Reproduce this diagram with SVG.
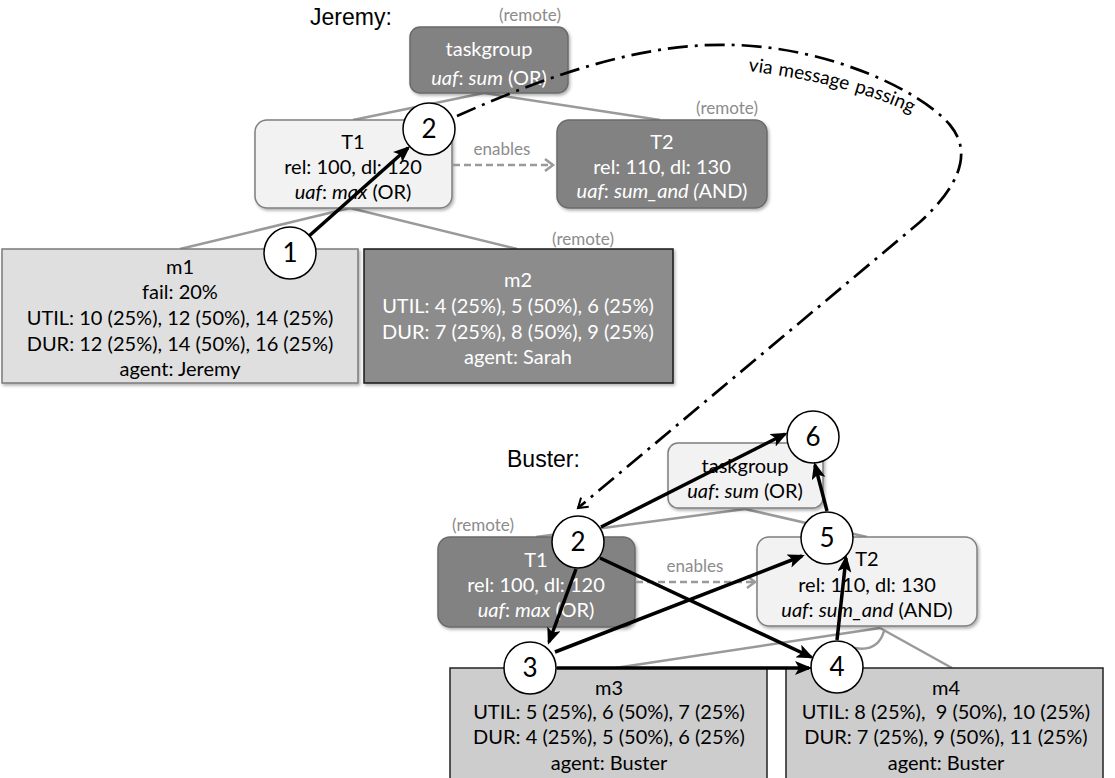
<svg xmlns="http://www.w3.org/2000/svg" width="1115" height="778" viewBox="0 0 1115 778">
<style>
  .box { font-family: Lato, "Open Sans", "Liberation Sans", sans-serif; font-size: 20px; text-anchor: middle; }
  .dk text { fill: #ffffff; }
  .lt text { fill: #000000; }
  .darkr { fill: #828282; stroke: #6a6a6a; stroke-width: 1.5; }
  .lightr { fill: #f2f2f2; stroke: #7f7f7f; stroke-width: 1.5; }
  .box text.remote, .remote { font-family: Lato, "Open Sans", "Liberation Sans", sans-serif; font-size: 17px; fill: #8c8c8c; text-anchor: middle; }
  .title { font-family: "Liberation Sans", Arial, sans-serif; font-size: 23px; fill: #000; }
  .en { font-family: Lato, "Open Sans", "Liberation Sans", sans-serif; font-size: 17px; fill: #8c8c8c; text-anchor: middle; }
  .msgt { font-family: Lato, "Open Sans", "Liberation Sans", sans-serif; font-size: 19px; fill: #000; }
  .tree { stroke: #9a9a9a; stroke-width: 2.5; fill: none; }
  .enab { stroke: #9a9a9a; stroke-width: 2.5; fill: none; stroke-dasharray: 7 4; marker-end: url(#chev); }
  .blk { stroke: #000; stroke-width: 3.5; fill: none; marker-end: url(#tri); }
  .msg { stroke: #000; stroke-width: 2.7; fill: none; stroke-dasharray: 20 7 3 7; marker-end: url(#chevb); }
  .circ circle { fill: #fff; stroke: #000; stroke-width: 1.5; }
  .circ text { font-family: Lato, "Open Sans", "Liberation Sans", sans-serif; font-size: 26px; text-anchor: middle; fill: #000; }
  .it { font-style: italic; }
</style>
<defs>
  <filter id="sh" x="-10%" y="-10%" width="130%" height="140%">
    <feDropShadow dx="1.5" dy="2" stdDeviation="1.5" flood-color="#000" flood-opacity="0.3"/>
  </filter>
  <marker id="tri" markerUnits="userSpaceOnUse" markerWidth="18" markerHeight="14" refX="14" refY="7" orient="auto">
    <path d="M0,0 L17,7 L0,14 L4,7 z" fill="#000"/>
  </marker>
  <marker id="chev" markerUnits="userSpaceOnUse" markerWidth="12" markerHeight="14" refX="9" refY="7" orient="auto">
    <path d="M1,1 L9,7 L1,13" fill="none" stroke="#9a9a9a" stroke-width="2.5"/>
  </marker>
  <marker id="chevb" markerUnits="userSpaceOnUse" markerWidth="14" markerHeight="14" refX="10" refY="7" orient="auto">
    <path d="M1,1 L10,7 L1,13" fill="none" stroke="#000" stroke-width="2"/>
  </marker>
  <path id="msgtext" d="M748,71 Q860,85 925,120" fill="none"/>
</defs>
<rect width="1115" height="778" fill="#fff"/>

<text class="title" x="310" y="25">Jeremy:</text>
<text class="title" x="507" y="467">Buster:</text>

<g id="tree-lines">
  <line class="tree" x1="353" y1="120" x2="484" y2="93"/>
  <line class="tree" x1="484" y1="93" x2="660" y2="120"/>
  <line class="tree" x1="350" y1="208" x2="180" y2="249"/>
  <line class="tree" x1="350" y1="208" x2="517" y2="249"/>
  <line class="tree" x1="536" y1="537" x2="745" y2="509"/>
  <line class="tree" x1="745" y1="509" x2="867" y2="537"/>
  <line class="tree" x1="880" y1="628" x2="615" y2="668"/>
  <line class="tree" x1="880" y1="628" x2="952" y2="668"/>
  <path class="tree" d="M855,648 Q878,652 884,631"/>
</g>

<g id="jeremy-taskgroup" class="box dk">
  <text class="remote" x="530" y="21">(remote)</text>
  <rect class="darkr" x="410" y="27" width="158" height="66" rx="10" filter="url(#sh)"/>
  <text x="489" y="56">taskgroup</text>
  <text x="489" y="85"><tspan class="it">uaf</tspan>: <tspan class="it">sum</tspan> (OR)</text>
</g>

<g id="jeremy-T1" class="box lt">
  <rect class="lightr" x="255" y="120" width="197" height="88" rx="12" filter="url(#sh)"/>
  <text x="353" y="149">T1</text>
  <text x="353" y="174">rel: 100, dl: 120</text>
  <text x="353" y="199"><tspan class="it">uaf</tspan>: <tspan class="it">max</tspan> (OR)</text>
</g>

<g id="jeremy-T2" class="box dk">
  <text class="remote" x="727" y="114">(remote)</text>
  <rect class="darkr" x="557" y="120" width="210" height="88" rx="12" filter="url(#sh)"/>
  <text x="662" y="149">T2</text>
  <text x="662" y="174">rel: 110, dl: 130</text>
  <text x="662" y="198"><tspan class="it">uaf</tspan>: <tspan class="it">sum_and (</tspan>AND)</text>
</g>

<g id="jeremy-m1" class="box lt">
  <rect x="2" y="249" width="356" height="134" fill="#dfdfdf" stroke="#7a7a7a" stroke-width="1.5" filter="url(#sh)"/>
  <text x="180" y="274">m1</text>
  <text x="180" y="299">fail: 20%</text>
  <text x="180" y="325">UTIL: 10 (25%), 12 (50%), 14 (25%)</text>
  <text x="180" y="351">DUR: 12 (25%), 14 (50%), 16 (25%)</text>
  <text x="180" y="376">agent: Jeremy</text>
</g>

<g id="jeremy-m2" class="box dk">
  <text class="remote" x="583" y="245">(remote)</text>
  <rect x="364" y="249" width="309" height="134" fill="#8c8c8c" stroke="#1a1a1a" stroke-width="1.5" filter="url(#sh)"/>
  <text x="518" y="287">m2</text>
  <text x="518" y="313">UTIL: 4 (25%), 5 (50%), 6 (25%)</text>
  <text x="518" y="339">DUR: 7 (25%), 8 (50%), 9 (25%)</text>
  <text x="518" y="364">agent: Sarah</text>
</g>

<g id="buster-taskgroup" class="box lt">
  <rect class="lightr" x="668" y="443" width="155" height="65" rx="10" filter="url(#sh)"/>
  <text x="745" y="473">taskgroup</text>
  <text x="745" y="498"><tspan class="it">uaf</tspan>: <tspan class="it">sum</tspan> (OR)</text>
</g>

<g id="buster-T1" class="box dk">
  <text class="remote" x="483" y="531">(remote)</text>
  <rect class="darkr" x="438" y="537" width="197" height="90" rx="12" filter="url(#sh)"/>
  <text x="536" y="567">T1</text>
  <text x="536" y="592">rel: 100, dl: 120</text>
  <text x="536" y="617"><tspan class="it">uaf</tspan>: <tspan class="it">max</tspan> (OR)</text>
</g>

<g id="buster-T2" class="box lt">
  <rect class="lightr" x="757" y="537" width="220" height="89" rx="12" filter="url(#sh)"/>
  <text x="867" y="566">T2</text>
  <text x="867" y="592">rel: 110, dl: 130</text>
  <text x="867" y="617"><tspan class="it">uaf</tspan>: <tspan class="it">sum_and</tspan> (AND)</text>
</g>

<g id="buster-m3" class="box lt">
  <rect x="450" y="668" width="317" height="130" fill="#cdcdcd" stroke="#222" stroke-width="1.5"/>
  <text x="609" y="695">m3</text>
  <text x="609" y="719">UTIL: 5 (25%), 6 (50%), 7 (25%)</text>
  <text x="609" y="744">DUR: 4 (25%), 5 (50%), 6 (25%)</text>
  <text x="609" y="770">agent: Buster</text>
</g>

<g id="buster-m4" class="box lt">
  <rect x="786" y="668" width="317" height="130" fill="#cdcdcd" stroke="#222" stroke-width="1.5"/>
  <text x="946" y="695">m4</text>
  <text x="946" y="719" xml:space="preserve">UTIL: 8 (25%),  9 (50%), 10 (25%)</text>
  <text x="946" y="744">DUR: 7 (25%), 9 (50%), 11 (25%)</text>
  <text x="946" y="770">agent: Buster</text>
</g>

<g id="connectors">
  <text class="en" x="502" y="155">enables</text>
  <line class="enab" x1="453" y1="165" x2="553" y2="165"/>
  <text class="en" x="695" y="572">enables</text>
  <line class="enab" x1="636" y1="582" x2="755" y2="582"/>
</g>

<g id="step-1" class="circ"><circle cx="290" cy="253" r="26"/><text x="290" y="262">1</text></g>
<g id="step-2-jeremy" class="circ"><circle cx="429" cy="129" r="26"/><text x="429" y="138">2</text></g>
<g id="step-2-buster" class="circ"><circle cx="578" cy="542" r="26"/><text x="578" y="551">2</text></g>
<g id="step-3" class="circ"><circle cx="530" cy="668" r="26"/><text x="530" y="677">3</text></g>
<g id="step-4" class="circ"><circle cx="837" cy="667" r="26"/><text x="837" y="676">4</text></g>
<g id="step-5" class="circ"><circle cx="827" cy="538" r="26"/><text x="827" y="547">5</text></g>
<g id="step-6" class="circ"><circle cx="813" cy="437" r="26"/><text x="813" y="446">6</text></g>

<g id="flow-arrows">
  <line class="blk" x1="309" y1="236" x2="408" y2="148"/>
  <line class="blk" x1="601" y1="527" x2="785" y2="434"/>
  <line class="blk" x1="827" y1="511" x2="815" y2="465"/>
  <line class="blk" x1="576" y1="569" x2="549" y2="642"/>
  <line class="blk" x1="555" y1="652" x2="802" y2="556"/>
  <line class="blk" x1="600" y1="558" x2="811" y2="657"/>
  <line class="blk" x1="557" y1="668" x2="809" y2="668"/>
  <line class="blk" x1="837" y1="640" x2="846" y2="558"/>
  <path class="msg" d="M457,116 C560,70 650,42 735,45 C830,48 920,90 950,125 C975,155 955,190 920,222 L578,508"/>
  <text class="msgt"><textPath href="#msgtext">via</textPath></text>
  <text class="msgt"><textPath href="#msgtext" startOffset="30">message</textPath></text>
  <text class="msgt"><textPath href="#msgtext" startOffset="108">passing</textPath></text>
</g>
</svg>
